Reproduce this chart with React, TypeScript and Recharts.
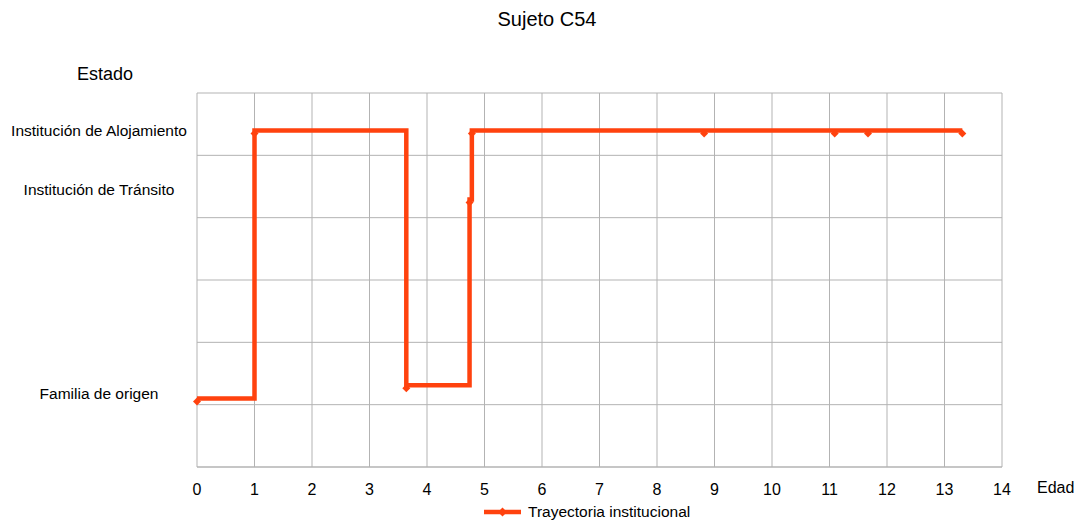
import React from "react";
import {
  LineChart, Line, XAxis, YAxis, CartesianGrid, Legend, ReferenceLine,
} from "recharts";

// edad (años) y estado codificado en la escala 0-6 del gráfico
const edad = [0, 1, 3.64, 4.74, 4.78, 8.82, 11.09, 11.67, 13.31];
const estado = [1.1, 5.4, 1.31, 4.29, 5.4, 5.4, 5.4, 5.4, 5.4];

const xTicks = [0, 1, 2, 3, 4, 5, 6, 7, 8, 9, 10, 11, 12, 13, 14];
const yGrid = [0, 1, 2, 3, 4, 5, 6];

const estadoLabels = ["Institución de Alojamiento", "Institución de Tránsito", "Familia de origen"];
const estadoLabelPos = [5.4, 4.45, 1.17];

const COLOR = "#ff420e";
const GRID = "#b3b3b3";
const FONT = "'Liberation Sans', Arial, sans-serif";

const data = edad.map((e, i) => ({ edad: e, estado: estado[i] }));

const Diamond = (props: any) => {
  const { cx, cy, index } = props;
  if (cx == null || cy == null) return null;
  const r = 4;
  const c = cy + 3; // markers sit a little low in the original
  return (
    <polygon
      key={`d-${index}`}
      points={`${cx},${c - r} ${cx + r},${c} ${cx},${c + r} ${cx - r},${c}`}
      fill={COLOR}
    />
  );
};

const EstadoTick = (props: any) => {
  const { y, payload } = props;
  const idx = estadoLabelPos.findIndex((p) => Math.abs(p - payload.value) < 1e-6);
  return (
    <text x={99} y={y} dy="0.35em" textAnchor="middle" fontSize={15.5} fill="#000" fontFamily={FONT}>
      {idx >= 0 ? estadoLabels[idx] : ""}
    </text>
  );
};

const LegendContent = () => (
  <div style={{ display: "flex", alignItems: "center", fontFamily: FONT, fontSize: 15.5, color: "#000" }}>
    <svg width={37} height={12}>
      <line x1={0} y1={6} x2={37} y2={6} stroke={COLOR} strokeWidth={4.5} />
      <polygon points="18.5,1.5 23,6 18.5,10.5 14,6" fill={COLOR} />
    </svg>
    <span style={{ marginLeft: 7 }}>Trayectoria institucional</span>
  </div>
);

export default function App() {
  return (
    <div style={{ position: "absolute", left: 0, top: 0, width: 1078, height: 522, background: "#fff", fontFamily: FONT }}>
      <div style={{ position: "absolute", left: 447, width: 200, top: 8, textAlign: "center", fontSize: 20, color: "#000" }}>
        Sujeto C54
      </div>
      <div style={{ position: "absolute", left: 55, width: 100, top: 64, textAlign: "center", fontSize: 18, color: "#000" }}>
        Estado
      </div>
      <LineChart width={1078} height={522} data={data} margin={{ top: 93, right: 76, left: 0, bottom: 25 }}>
        <CartesianGrid stroke={GRID} strokeWidth={1} horizontal={false} />
        {yGrid.map((v) => (
          <ReferenceLine key={v} y={v} stroke={GRID} strokeWidth={1} />
        ))}
        <XAxis
          dataKey="edad"
          type="number"
          domain={[0, 14]}
          ticks={xTicks}
          interval={0}
          height={30}
          tickLine={false}
          tickMargin={11}
          axisLine={{ stroke: GRID }}
          tick={{ fill: "#000", fontSize: 16, fontFamily: FONT }}
          label={{ value: "Edad", position: "right", offset: 35, dy: 5.5, fill: "#000", fontSize: 16, fontFamily: FONT }}
        />
        <YAxis
          type="number"
          domain={[0, 6]}
          ticks={estadoLabelPos}
          interval={0}
          width={197}
          axisLine={false}
          tickLine={false}
          tick={<EstadoTick />}
        />
        <Legend
          layout="horizontal"
          verticalAlign="middle"
          align="center"
          content={<LegendContent />}
          wrapperStyle={{ left: 484, top: 503, width: 240, height: 20 }}
        />
        <Line
          dataKey="estado"
          name="Trayectoria institucional"
          type="stepAfter"
          stroke={COLOR}
          strokeWidth={4.5}
          dot={Diamond}
          activeDot={false}
          isAnimationActive={false}
        />
      </LineChart>
    </div>
  );
}
